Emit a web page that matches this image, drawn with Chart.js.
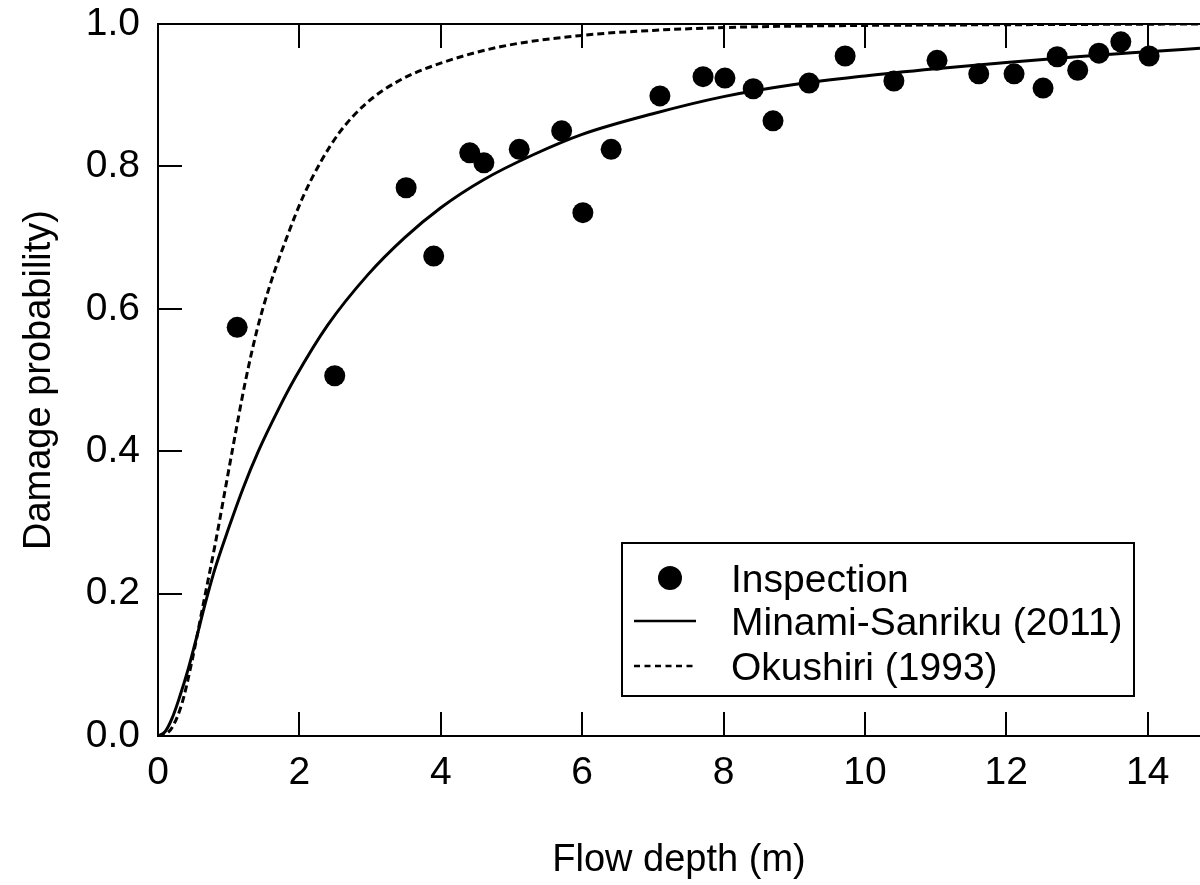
<!DOCTYPE html>
<html>
<head>
<meta charset="utf-8">
<title>Damage probability vs flow depth</title>
<script src="https://cdn.jsdelivr.net/npm/chart.js@4.4.0/dist/chart.umd.min.js"></script>
<style>
    html, body { margin: 0; padding: 0; background: #fff; }
    #wrap { width: 1200px; height: 885px; }
</style>
</head>
<body>
<div id="wrap"><canvas id="fragilityChart" width="1200" height="885"></canvas></div>
<script>
// Inspection results
const inspectionDepth = [1.12, 2.50, 3.51, 3.90, 4.41, 4.61, 5.11, 5.71, 6.01, 6.41, 7.10, 7.71, 8.02, 8.42,
    8.70, 9.21, 9.72, 10.41, 11.02, 11.61, 12.11, 12.52, 12.72, 13.01, 13.31, 13.62, 14.02];
const inspectionProb = [0.574, 0.506, 0.770, 0.674, 0.819, 0.805, 0.824, 0.850, 0.735, 0.824, 0.899, 0.926, 0.924, 0.909,
    0.864, 0.917, 0.955, 0.920, 0.949, 0.930, 0.930, 0.910, 0.954, 0.935, 0.959, 0.975, 0.955];

// Minami-Sanriku (2011) fragility curve, traced
const sanrikuDepth = [0, 0.1, 0.2, 0.3, 0.43, 0.55, 0.66, 0.8, 1.0, 1.2, 1.42, 1.7, 1.94, 2.4, 2.97, 3.49,
    4.0, 4.6, 5.3, 6.0, 7.0, 8.0, 9.0, 10.0, 11.0, 12.0, 13.0, 14.0, 14.74];
const sanrikuProb = [0, 0.006, 0.025, 0.053, 0.095, 0.14, 0.183, 0.233, 0.292, 0.347, 0.400, 0.458, 0.503, 0.577, 0.648, 0.700,
    0.742, 0.781, 0.816, 0.845, 0.874, 0.898, 0.915, 0.927, 0.937, 0.946, 0.954, 0.961, 0.966];

// Okushiri (1993) fragility curve, traced
const okushiriDepth = [0, 0.1, 0.2, 0.34, 0.48, 0.64, 0.81, 1.04, 1.23, 1.4, 1.58, 1.84, 2.05, 2.3, 2.57, 2.95,
    3.42, 4.0, 4.84, 6.0, 7.0, 8.0, 9.0, 10.0, 12.0, 14.74];
const okushiriProb = [0, 0.002, 0.012, 0.046, 0.105, 0.185, 0.27, 0.395, 0.495, 0.57, 0.632, 0.705, 0.757, 0.806, 0.848, 0.889,
    0.921, 0.945, 0.968, 0.984, 0.991, 0.995, 0.997, 0.998, 0.999, 1.0];

const xTicks = [0, 2, 4, 6, 8, 10, 12, 14];
const yTicks = [0, 0.2, 0.4, 0.6, 0.8, 1.0];
const legendLabels = ['Inspection', 'Minami-Sanriku (2011)', 'Okushiri (1993)'];

const FONT = '"Liberation Sans", Arial, sans-serif';

function toXY(xs, ys) {
    return xs.map((x, i) => ({ x: x, y: ys[i] }));
}

// box frame + inward ticks (left, bottom, top)
const frameTicks = {
    id: 'frameTicks',
    afterDraw(chart) {
        const { ctx, chartArea: a, scales } = chart;
        const tick = 24;
        ctx.save();
        ctx.strokeStyle = '#000';
        ctx.lineWidth = 2;
        ctx.beginPath();
        ctx.moveTo(a.right, a.top);
        ctx.lineTo(a.left, a.top);
        ctx.lineTo(a.left, a.bottom);
        ctx.lineTo(a.right, a.bottom);
        scales.x.ticks.forEach(t => {
            const px = Math.round(scales.x.getPixelForValue(t.value));
            ctx.moveTo(px, a.bottom);
            ctx.lineTo(px, a.bottom - tick);
            ctx.moveTo(px, a.top);
            ctx.lineTo(px, a.top + tick);
        });
        scales.y.ticks.forEach(t => {
            const py = Math.round(scales.y.getPixelForValue(t.value));
            ctx.moveTo(a.left, py);
            ctx.lineTo(a.left + tick, py);
        });
        ctx.stroke();
        ctx.restore();
    }
};

// boxed legend in the lower right of the plot
const boxLegend = {
    id: 'boxLegend',
    afterDraw(chart) {
        const { ctx, chartArea: a } = chart;
        const w = 512, h = 153;
        const left = a.right - 66 - w;
        const top = a.bottom - 40 - h;
        ctx.save();
        ctx.fillStyle = '#fff';
        ctx.fillRect(left, top, w, h);
        ctx.strokeStyle = '#000';
        ctx.lineWidth = 2;
        ctx.strokeRect(left, top, w, h);

        const rows = [top + 35, top + 78, top + 123];
        // dot
        ctx.fillStyle = '#000';
        ctx.beginPath();
        ctx.arc(left + 48, rows[0], 12, 0, Math.PI * 2);
        ctx.fill();
        // solid line
        ctx.lineWidth = 2.5;
        ctx.beginPath();
        ctx.moveTo(left + 12, rows[1]);
        ctx.lineTo(left + 74, rows[1]);
        ctx.stroke();
        // dashed line
        ctx.setLineDash([6, 4.5]);
        ctx.beginPath();
        ctx.moveTo(left + 12, rows[2]);
        ctx.lineTo(left + 74, rows[2]);
        ctx.stroke();
        ctx.setLineDash([]);

        ctx.font = '39px ' + FONT;
        ctx.textBaseline = 'alphabetic';
        ctx.textAlign = 'left';
        legendLabels.forEach((label, i) => {
            ctx.fillText(label, left + 109, rows[i] + 14);
        });
        ctx.restore();
    }
};

function setupChart() {
    const ctx = document.getElementById('fragilityChart');

    // eslint-disable-next-line no-new
    new Chart(ctx, {
        type: 'scatter',
        data: {
            datasets: [{
                label: legendLabels[0],
                data: toXY(inspectionDepth, inspectionProb),
                pointRadius: 10.5,
                pointBackgroundColor: '#000',
                pointBorderWidth: 0,
                showLine: false
            }, {
                label: legendLabels[1],
                data: toXY(sanrikuDepth, sanrikuProb),
                showLine: true,
                borderColor: '#000',
                borderWidth: 3,
                pointRadius: 0,
                cubicInterpolationMode: 'monotone'
            }, {
                label: legendLabels[2],
                data: toXY(okushiriDepth, okushiriProb),
                showLine: true,
                borderColor: '#000',
                borderWidth: 3,
                borderDash: [7, 4],
                pointRadius: 0,
                cubicInterpolationMode: 'monotone'
            }]
        },
        options: {
            responsive: false,
            animation: false,
            devicePixelRatio: 1,
            layout: {
                autoPadding: false,
                padding: { top: 24, right: 0, bottom: 0, left: 0 }
            },
            plugins: {
                legend: { display: false },
                tooltip: { enabled: false }
            },
            scales: {
                x: {
                    type: 'linear',
                    min: 0,
                    max: 14.74,
                    afterBuildTicks: scale => {
                        scale.ticks = xTicks.map(v => ({ value: v }));
                    },
                    afterFit: scale => {
                        scale.height = 149;
                        scale.paddingLeft = 0;
                        scale.paddingRight = 0;
                    },
                    grid: { display: false, drawTicks: false },
                    border: { display: false },
                    ticks: {
                        autoSkip: false,
                        maxRotation: 0,
                        padding: 14,
                        color: '#000',
                        font: { family: FONT, size: 39 }
                    },
                    title: {
                        display: true,
                        text: 'Flow depth (m)',
                        color: '#000',
                        font: { family: FONT, size: 38 },
                        padding: { top: 0, bottom: 2 }
                    }
                },
                y: {
                    type: 'linear',
                    min: 0,
                    max: 1,
                    afterBuildTicks: scale => {
                        scale.ticks = yTicks.map(v => ({ value: v }));
                    },
                    afterFit: scale => {
                        scale.width = 158;
                        // let the 1.0 label hang over the top margin
                        scale.paddingTop = 0;
                        scale.paddingBottom = 0;
                    },
                    grid: { display: false, drawTicks: false },
                    border: { display: false },
                    ticks: {
                        autoSkip: false,
                        padding: 18,
                        color: '#000',
                        font: { family: FONT, size: 39 },
                        callback: v => v.toFixed(1)
                    },
                    title: {
                        display: true,
                        text: 'Damage probability)',
                        color: '#000',
                        font: { family: FONT, size: 38 },
                        padding: { top: 17, bottom: 0 }
                    }
                }
            }
        },
        plugins: [frameTicks, boxLegend]
    });
}

document.addEventListener('DOMContentLoaded', setupChart);
</script>
</body>
</html>
